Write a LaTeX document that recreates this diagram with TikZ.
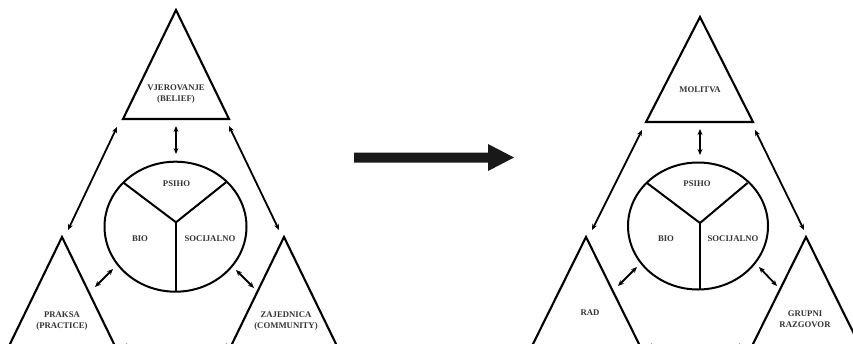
\documentclass[tikz,border=0pt]{standalone}
\usepackage{fontspec}
\setmainfont{Liberation Serif}
\usetikzlibrary{arrows.meta}
\begin{document}
\begin{tikzpicture}[x=1pt,y=-1pt,
  tri/.style={draw=black,line width=2.1pt,line join=miter},
  circ/.style={draw=black,line width=2pt},
  seg/.style={draw=black,line width=2pt},
  link/.style={draw=black,line width=1.8pt,{Stealth[length=6pt,width=5pt]}-{Stealth[length=6pt,width=5pt]}},
  lab/.style={font=\bfseries\fontsize{8.7}{10.8}\selectfont,align=center,text=black!80,inner sep=0pt},
  bigarrow/.style={fill=black!90,draw=none}]
\useasboundingbox (0,0) rectangle (853,343);
\clip (0,0) rectangle (853,343);
% ===== Left panel =====
\draw[tri] (176,10) coordinate (LTa) -- (229,119) coordinate (LTr) -- (123,119) coordinate (LTl) -- cycle;
\draw[tri] (62,237) coordinate (LLa) -- (115,346) -- (9,346) -- cycle;
\draw[tri] (284,237) coordinate (LRa) -- (337,346) -- (231,346) -- cycle;
\node[lab] (vje) at (176,94) {VJEROVANJE\\(BELIEF)};
\node[lab] (pra) at (62,321) {PRAKSA\\(PRACTICE)};
\node[lab] (zaj) at (286,321) {ZAJEDNICA\\(COMMUNITY)};
\draw[circ] (175.5,226.7) ellipse [x radius=71, y radius=65];
\coordinate (Lc) at (176,222.3);
\coordinate (Lp1) at (123,182.3);
\coordinate (Lp2) at (226,182.3);
\coordinate (Lp3) at (176,291.7);
\draw[seg] (Lp1) -- (Lc) -- (Lp2);
\draw[seg] (Lc) -- (Lp3);
\node[lab] (lpsi) at (176.5,183.3) {PSIHO};
\node[lab] (lbio) at (140,239) {BIO};
\node[lab] (lsoc) at (210,239) {SOCIJALNO};
\coordinate (Lv1) at (176,126); \coordinate (Lv2) at (176,154);
\draw[link] (Lv1) -- (Lv2);
\coordinate (Ld1) at (117,127); \coordinate (Ld2) at (68,230);
\draw[link] (Ld1) -- (Ld2);
\coordinate (Ld3) at (229,126); \coordinate (Ld4) at (279,230);
\draw[link] (Ld3) -- (Ld4);
\coordinate (Ls1) at (113,269); \coordinate (Ls2) at (95,287);
\draw[link] (Ls1) -- (Ls2);
\coordinate (Ls3) at (236,270); \coordinate (Ls4) at (254,288);
\draw[link] (Ls3) -- (Ls4);
\coordinate (Lh1) at (121,346); \coordinate (Lh2) at (232,346);
\draw[link] (Lh1) -- (Lh2);
% ===== Big arrow =====
\fill[bigarrow] (354,152.5) -- (488,152.5) -- (488,144) -- (514,157.5) -- (488,171) -- (488,162.5) -- (354,162.5) -- cycle;
% ===== Right panel =====
\draw[tri] (700,17) coordinate (RTa) -- (753,122) -- (646,122) -- cycle;
\draw[tri] (586,237) coordinate (RLa) -- (640,346) -- (532,346) -- cycle;
\draw[tri] (806,237) coordinate (RRa) -- (860,346) -- (752,346) -- cycle;
\node[lab] (mol) at (700,90) {MOLITVA};
\node[lab] (rad) at (590,313) {RAD};
\node[lab] (grp) at (805,319) {GRUPNI\\RAZGOVOR};
\draw[circ] (698,226) ellipse [x radius=70, y radius=63.5];
\coordinate (Rc) at (700,223);
\coordinate (Rp1) at (647,183);
\coordinate (Rp2) at (747.5,183);
\coordinate (Rp3) at (700,289.5);
\draw[seg] (Rp1) -- (Rc) -- (Rp2);
\draw[seg] (Rc) -- (Rp3);
\node[lab] (rpsi) at (697,184) {PSIHO};
\node[lab] (rbio) at (666,239) {BIO};
\node[lab] (rsoc) at (733,239) {SOCIJALNO};
\coordinate (Rv1) at (700,129); \coordinate (Rv2) at (700,155);
\draw[link] (Rv1) -- (Rv2);
\coordinate (Rd1) at (642,130); \coordinate (Rd2) at (592,230);
\draw[link] (Rd1) -- (Rd2);
\coordinate (Rd3) at (755,130); \coordinate (Rd4) at (804,230);
\draw[link] (Rd3) -- (Rd4);
\coordinate (Rs1) at (637,267); \coordinate (Rs2) at (618,286);
\draw[link] (Rs1) -- (Rs2);
\coordinate (Rs3) at (759,267); \coordinate (Rs4) at (777,286);
\draw[link] (Rs3) -- (Rs4);
\coordinate (Rh1) at (646,346); \coordinate (Rh2) at (745,346);
\draw[link] (Rh1) -- (Rh2);
\end{tikzpicture}
\end{document}
